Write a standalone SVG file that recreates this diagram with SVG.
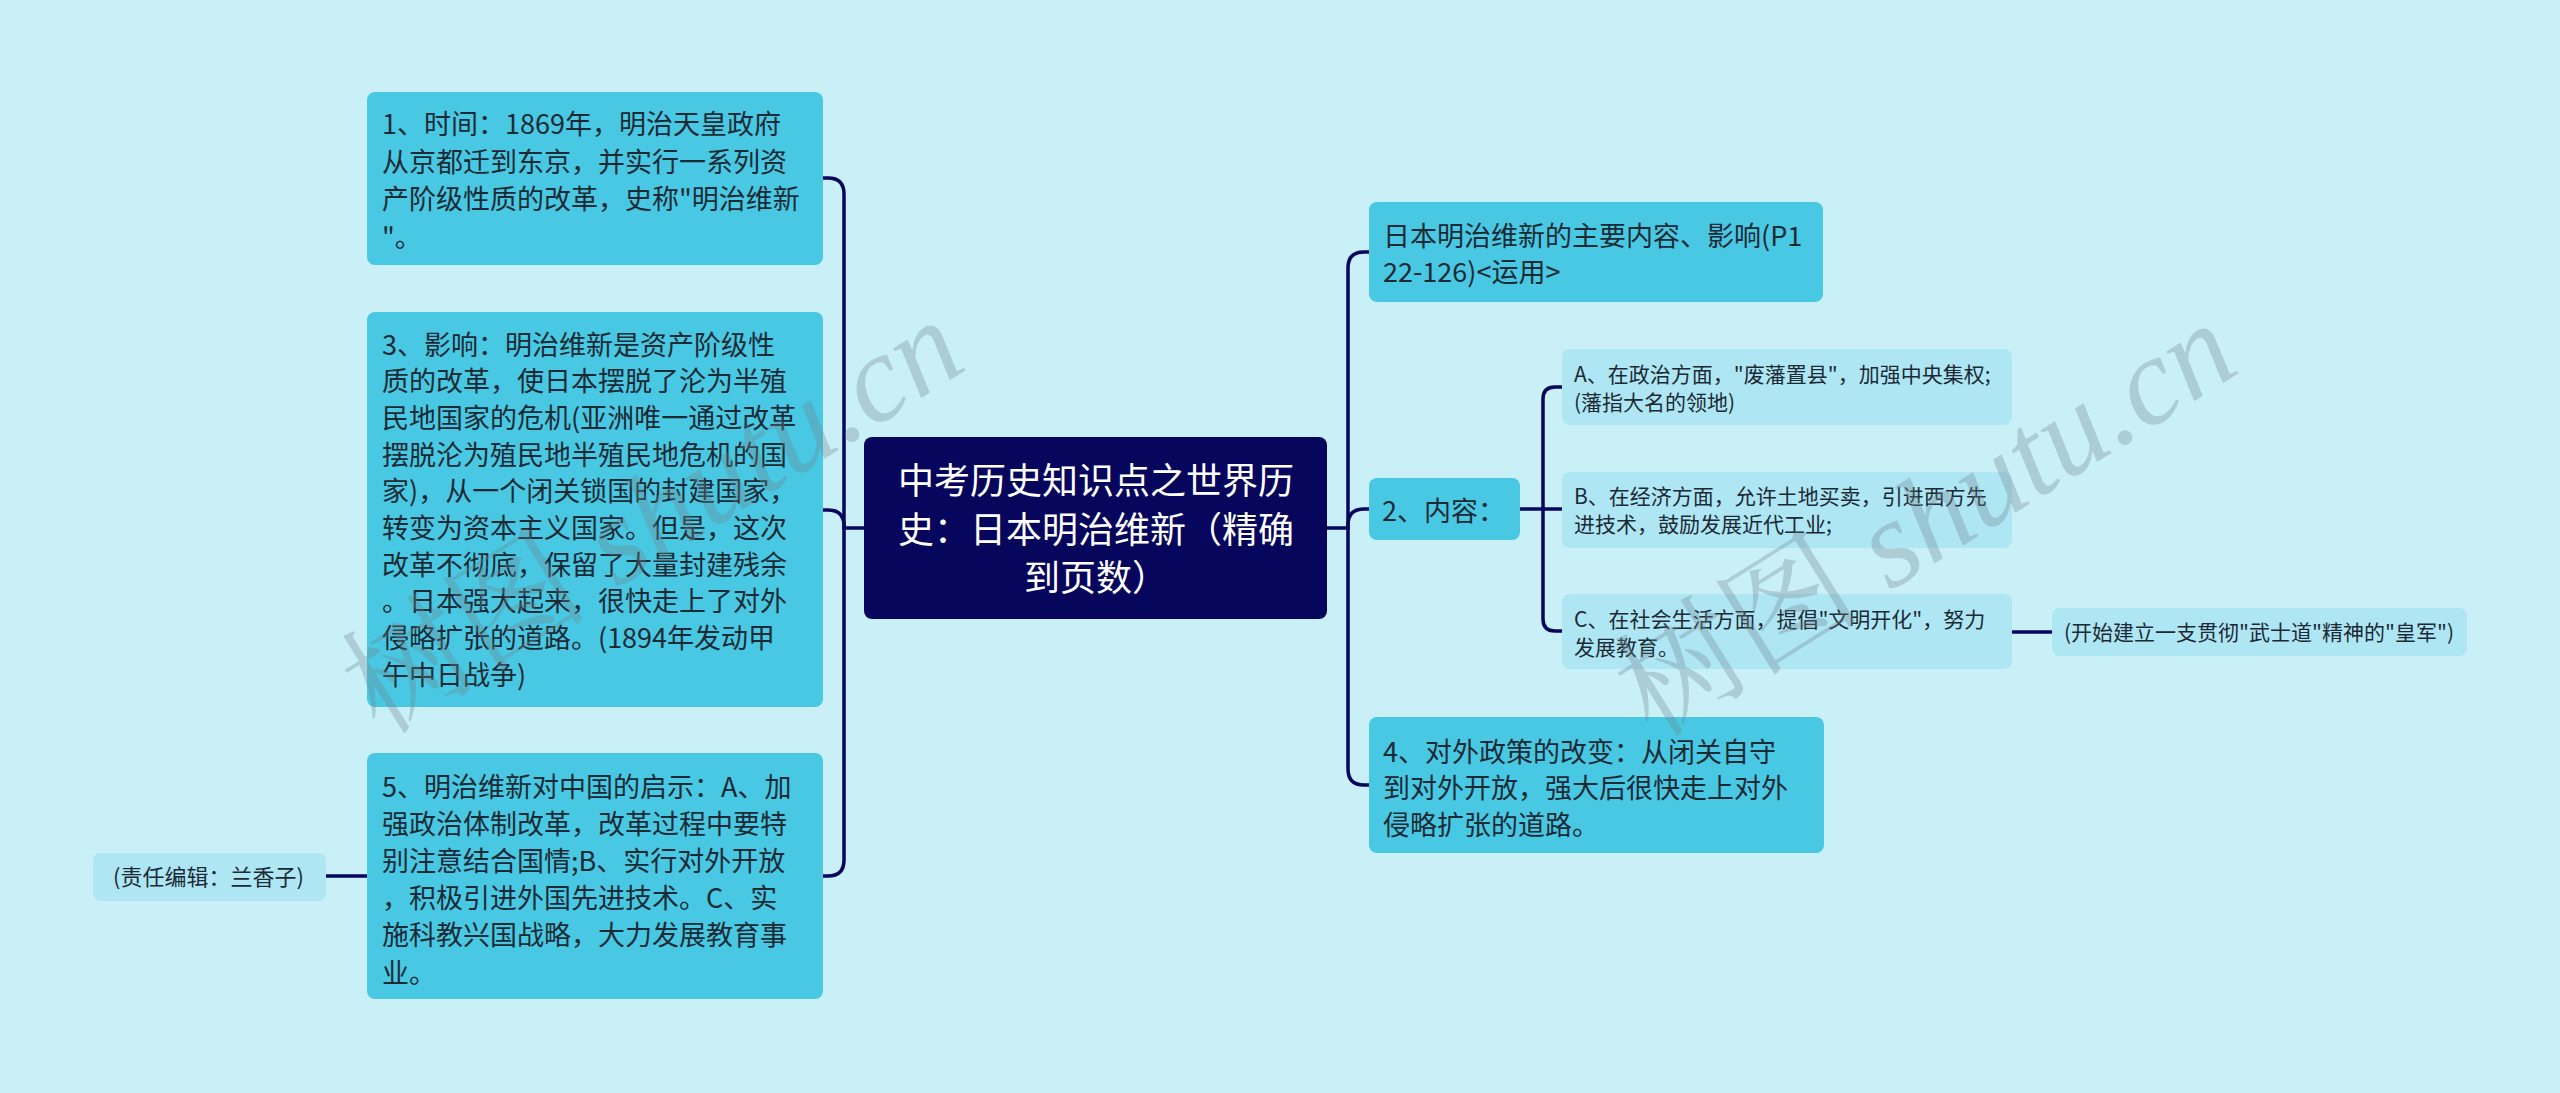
<svg xmlns="http://www.w3.org/2000/svg" width="2560" height="1093" viewBox="0 0 2560 1093">
<defs>
<style>
.bg{fill:#c9f0f7}
.n2{fill:#48c8e2}
.n3{fill:#aee6f3}
.root{fill:#06065c}
.t{font-family:"Noto Sans CJK SC","Noto Sans",sans-serif;fill:#1c2a35}
.t27{font-size:27px}
.t21{font-size:21px}
.t22{font-size:22px}
.tr{font-family:"Noto Sans CJK SC","Noto Sans",sans-serif;font-size:36px;fill:#ffffff;text-anchor:middle}
.c{fill:none;stroke:#06065c;stroke-width:3.5;stroke-linecap:round}
.wm{font-family:"Liberation Serif","Noto Serif CJK SC","Noto Sans CJK SC",serif;font-size:124px;fill:#6f8790;fill-opacity:0.33}
</style>
</defs>
<rect class="bg" x="0" y="0" width="2560" height="1093"/>

<g id="connectors">
<path class="c" d="M864,528 H844 V194 Q844,178 828,178 H823"/>
<path class="c" d="M844,528 V526 Q844,510 828,510 H823"/>
<path class="c" d="M844,528 V860 Q844,876 828,876 H823"/>
<path class="c" d="M367,876 H326"/>
<path class="c" d="M1327,528 H1348 V268 Q1348,252 1364,252 H1369"/>
<path class="c" d="M1348,528 V525 Q1348,509 1364,509 H1369"/>
<path class="c" d="M1348,528 V769 Q1348,785 1364,785 H1369"/>
<path class="c" d="M1520,509 H1562"/>
<path class="c" d="M1543,509 V399 Q1543,387 1555,387 H1562"/>
<path class="c" d="M1543,509 V619 Q1543,631 1555,631 H1562"/>
<path class="c" d="M2012,632 H2052"/>
</g>

<g id="root">
<rect class="root" x="864" y="437" width="463" height="182" rx="8"/>
<text class="tr"><tspan x="1096" y="494">中考历史知识点之世界历</tspan><tspan x="1096" y="542.5">史：日本明治维新（精确</tspan><tspan x="1096" y="591">到页数）</tspan></text>
</g>

<g id="node1">
<rect class="n2" x="367" y="92" width="456" height="173" rx="8"/>
<text class="t t27"><tspan x="382" y="134">1、时间：1869年，明治天皇政府</tspan><tspan x="382" y="171.5">从京都迁到东京，并实行一系列资</tspan><tspan x="382" y="209">产阶级性质的改革，史称"明治维新</tspan><tspan x="382" y="246.5">"。</tspan></text>
</g>

<g id="node3">
<rect class="n2" x="367" y="312" width="456" height="395" rx="8"/>
<text class="t t27"><tspan x="382" y="354.5">3、影响：明治维新是资产阶级性</tspan><tspan x="382" y="391.2">质的改革，使日本摆脱了沦为半殖</tspan><tspan x="382" y="427.9">民地国家的危机(亚洲唯一通过改革</tspan><tspan x="382" y="464.6">摆脱沦为殖民地半殖民地危机的国</tspan><tspan x="382" y="501.3">家)，从一个闭关锁国的封建国家，</tspan><tspan x="382" y="538">转变为资本主义国家。但是，这次</tspan><tspan x="382" y="574.7">改革不彻底，保留了大量封建残余</tspan><tspan x="382" y="611.4">。日本强大起来，很快走上了对外</tspan><tspan x="382" y="648.1">侵略扩张的道路。(1894年发动甲</tspan><tspan x="382" y="684.8">午中日战争)</tspan></text>
</g>

<g id="node5">
<rect class="n2" x="367" y="753" width="456" height="246" rx="8"/>
<text class="t t27"><tspan x="382" y="796.5">5、明治维新对中国的启示：A、加</tspan><tspan x="382" y="833.7">强政治体制改革，改革过程中要特</tspan><tspan x="382" y="870.9">别注意结合国情;B、实行对外开放</tspan><tspan x="382" y="908.1">，积极引进外国先进技术。C、实</tspan><tspan x="382" y="945.3">施科教兴国战略，大力发展教育事</tspan><tspan x="382" y="982.5">业。</tspan></text>
</g>

<g id="editor">
<rect class="n3" x="93" y="853" width="233" height="48" rx="8"/>
<text class="t t22" x="113" y="885">(责任编辑：兰香子)</text>
</g>

<g id="nodeTop">
<rect class="n2" x="1369" y="202" width="454" height="100" rx="8"/>
<text class="t t27"><tspan x="1383" y="246">日本明治维新的主要内容、影响(P1</tspan><tspan x="1383" y="282">22-126)&lt;运用&gt;</tspan></text>
</g>

<g id="node2">
<rect class="n2" x="1369" y="478" width="151" height="62" rx="8"/>
<text class="t t27" x="1382" y="521">2、内容：</text>
</g>

<g id="nodeA">
<rect class="n3" x="1562" y="349" width="450" height="76" rx="8"/>
<text class="t t21"><tspan x="1574" y="382">A、在政治方面，"废藩置县"，加强中央集权;</tspan><tspan x="1574" y="410">(藩指大名的领地)</tspan></text>
</g>

<g id="nodeB">
<rect class="n3" x="1562" y="472" width="450" height="76" rx="8"/>
<text class="t t21"><tspan x="1574" y="504">B、在经济方面，允许土地买卖，引进西方先</tspan><tspan x="1574" y="532">进技术，鼓励发展近代工业;</tspan></text>
</g>

<g id="nodeC">
<rect class="n3" x="1562" y="594" width="450" height="75" rx="8"/>
<text class="t t21"><tspan x="1574" y="627">C、在社会生活方面，提倡"文明开化"，努力</tspan><tspan x="1574" y="655">发展教育。</tspan></text>
</g>

<g id="nodeC1">
<rect class="n3" x="2052" y="608" width="415" height="48" rx="8"/>
<text class="t t21" x="2064" y="639.5">(开始建立一支贯彻"武士道"精神的"皇军")</text>
</g>

<g id="node4">
<rect class="n2" x="1369" y="717" width="455" height="136" rx="8"/>
<text class="t t27"><tspan x="1383" y="761.5">4、对外政策的改变：从闭关自守</tspan><tspan x="1383" y="798">到对外开放，强大后很快走上对外</tspan><tspan x="1383" y="834.5">侵略扩张的道路。</tspan></text>
</g>

<g id="watermarks">
<text class="wm" text-anchor="middle" transform="translate(675,552) rotate(-32)">树图 <tspan font-style="italic">shutu.cn</tspan></text>
<text class="wm" text-anchor="middle" transform="translate(1948,555) rotate(-32)">树图 <tspan font-style="italic">shutu.cn</tspan></text>
</g>
</svg>
